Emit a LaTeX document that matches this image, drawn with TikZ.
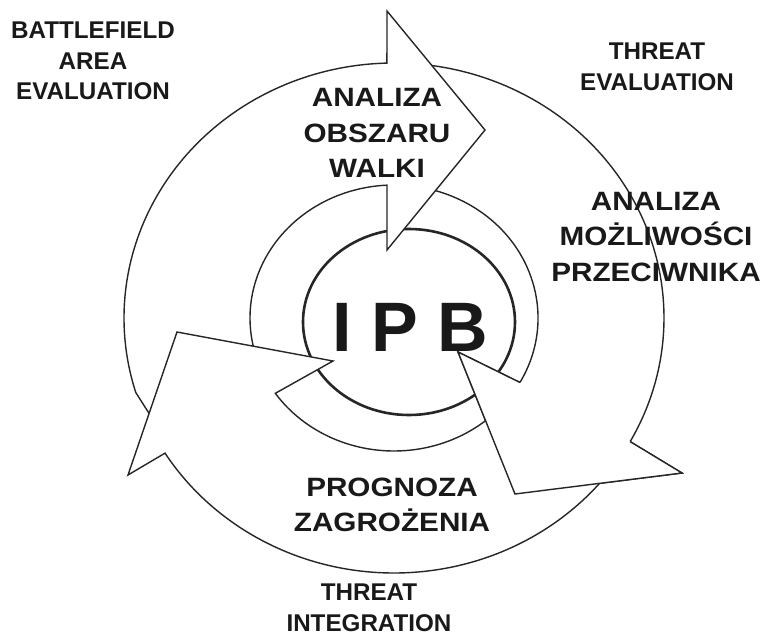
\documentclass[tikz,border=0pt]{standalone}
\usepackage{fontspec}
\setmainfont{Liberation Sans}
\newfontfamily\stepfont[FakeStretch=1.12]{Liberation Sans}
\usetikzlibrary{calc}

\tikzset{
  arrowbody/.style={draw=black!85,line width=1.4pt,fill=white,line join=miter},
  ipbring/.style={draw=black!85,line width=2.6pt},
  outlabel/.style={align=center,inner sep=0pt,text=black!90,
    font={\bfseries\fontsize{24.2}{30.5}\selectfont}},
  steplabel/.style={align=center,inner sep=0pt,text=black!90,
    font={\stepfont\bfseries\fontsize{26.5}{35.5}\selectfont}},
  ipbtext/.style={inner sep=0pt,text=black!90,
    font={\bfseries\fontsize{70}{80}\selectfont}}
}

\begin{document}
\begin{tikzpicture}[x=1pt,y=-1pt]

  \useasboundingbox (0,0) rectangle (764,640);

  \coordinate (c) at (394,318);

  \coordinate (obs-w1) at (387,11);
  \coordinate (obs-tip) at (485,130);
  \coordinate (obs-w2) at (387,250);

  \coordinate (moz-w1) at (682,473);
  \coordinate (moz-tip) at (515,494);
  \coordinate (moz-w2) at (458,352);

  \coordinate (pro-w1) at (128,475);
  \coordinate (pro-tip) at (177,332);
  \coordinate (pro-w2) at (333,361);

  \draw [ipbring] (409,322) ellipse [x radius=106, y radius=93];

  % right arrow first, its tail goes under the top head
  \path [arrowbody]
    ($(c)+(-86:270 and 255)$) arc [start angle=-86, end angle=29, x radius=270, y radius=255]
    -- (moz-w1) -- (moz-tip) -- (moz-w2)
    -- ($(c)+(29:144 and 133)$) arc [start angle=29, end angle=-88, x radius=144, y radius=133]
    -- cycle;

  \path [arrowbody]
    ($(c)+(163:270 and 255)$) arc [start angle=163, end angle=268.5, x radius=270, y radius=255]
    -- (obs-w1) -- (obs-tip) -- (obs-w2)
    -- ($(c)+(267.2:144 and 133)$) arc [start angle=267.2, end angle=165, x radius=144, y radius=133]
    -- (152,418) -- cycle;

  \path [arrowbody]
    ($(c)+(38:270 and 255)$) arc [start angle=38, end angle=148, x radius=270, y radius=255]
    -- (pro-w1) -- (pro-tip) -- (pro-w2)
    -- ($(c)+(145.5:144 and 133)$) arc [start angle=145.5, end angle=38, x radius=144, y radius=133]
    -- cycle;

  % head of the right arrow again, over the tail of the bottom one
  \fill [white] ($(c)+(29:270 and 255)$) -- (moz-w1) -- (moz-tip) -- (moz-w2)
    -- ($(c)+(29:144 and 133)$) -- cycle;
  \draw [arrowbody,fill=none] ($(c)+(29:270 and 255)$) -- (moz-w1) -- (moz-tip) -- (moz-w2)
    -- ($(c)+(29:144 and 133)$);

  \node [ipbtext] (ipb) at (410,327) {I P B};

  \node [steplabel] (obszar) at (377,133) {ANALIZA\\OBSZARU\\WALKI};
  \node [steplabel] (mozliwosci) at (656,237) {ANALIZA\\MOŻLIWOŚCI\\PRZECIWNIKA};
  \node [steplabel] (prognoza) at (392,505) {PROGNOZA\\ZAGROŻENIA};

  \node [outlabel] (battlefield) at (93,61) {BATTLEFIELD\\AREA\\EVALUATION};
  \node [outlabel] (evaluation) at (657,67) {THREAT\\EVALUATION};
  \node [outlabel] (integration) at (369,608) {THREAT\\INTEGRATION};

\end{tikzpicture}
\end{document}
